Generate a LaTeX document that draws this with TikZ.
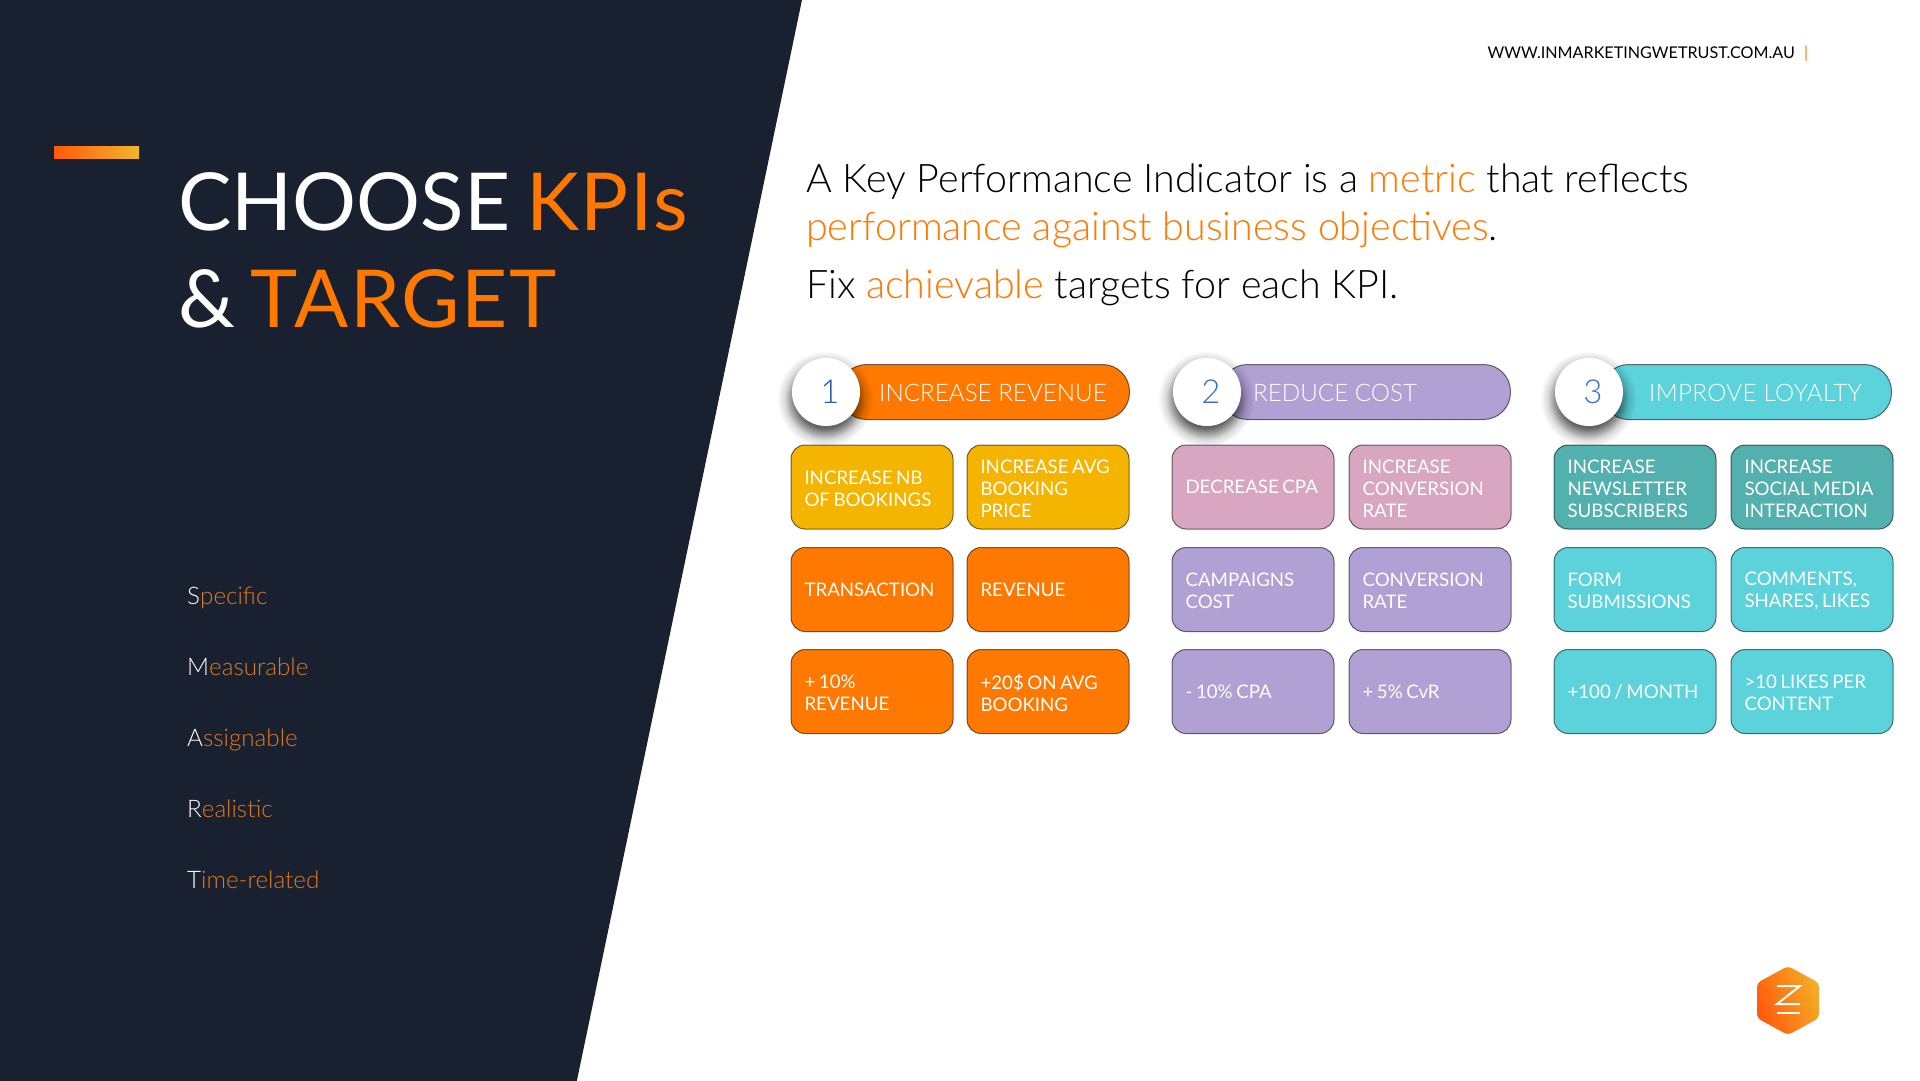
\documentclass[tikz,border=0pt]{standalone}
\usepackage{fontspec}
\setmainfont{Lato}
\newfontfamily\latolight{Lato Light}
\usetikzlibrary{fadings}
\definecolor{navy}{HTML}{19202F}
\definecolor{kpiorange}{HTML}{FF7800}
\definecolor{kpiyellow}{HTML}{F4B400}
\definecolor{kpipink}{HTML}{D8A6C0}
\definecolor{kpipurple}{HTML}{B0A0D4}
\definecolor{kpiteal}{HTML}{52B0AE}
\definecolor{kpicyan}{HTML}{5CD2DA}
\definecolor{smartorange}{HTML}{E07A1C}
\definecolor{numdark}{HTML}{2B5CA8}
\definecolor{numblue}{HTML}{3A6FC8}
\definecolor{gradstart}{HTML}{FF5A0A}
\definecolor{gradend}{HTML}{F2B52E}
\pgfdeclareradialshading{softshade}{\pgfpointorigin}{color(0bp)=(white); color(15bp)=(white!75!black); color(21bp)=(white!18!black); color(25bp)=(black); color(50bp)=(black)}
\pgfdeclarefading{softshadow}{\pgfuseshading{softshade}}
\newcommand{\titlefont}{\fontsize{80}{90}\selectfont\spaceskip.195em\relax}
\tikzset{
  kpibox/.style={draw=black,draw opacity=.55,line width=1pt,fill=#1,rounded corners=14pt,
    minimum width=162pt,minimum height=84pt,text width=135pt,inner xsep=13.5pt,inner ysep=0pt,
    align=left,text=white,font=\fontsize{18.7}{22}\selectfont,
    execute at begin node=\spaceskip.19em\relax,
    execute at end node=\par\vspace*{-3pt}},
  pill/.style={draw=black,draw opacity=.55,line width=1pt,fill=#1,rounded corners=27pt,
    minimum width=290pt,minimum height=55pt,anchor=east},
  pilltext/.style={anchor=base west,inner sep=0pt,text=white,font=\fontsize{24.2}{28}\latolight\selectfont},
  numcircle/.style={circle,fill=white,minimum size=68pt,inner sep=0pt,text=#1,font=\fontsize{33}{36}\latolight\selectfont,execute at begin node=\hspace*{8pt}},
  numshadow/.style={circle,fill=black,fill opacity=.8,minimum size=96pt,path fading=softshadow},
  bodyline/.style={anchor=base west,inner sep=0pt,text=black,font=\fontsize{39.4}{44}\latolight\selectfont},
  titleline/.style={anchor=base west,inner sep=0pt,text=white,font=\titlefont},
  smart/.style={anchor=base west,inner sep=0pt,text=smartorange,font=\fontsize{24.2}{28}\latolight\selectfont},
}
\newcommand{\hl}[1]{\textcolor{kpiorange}{#1}}
\newcommand{\titlehl}[1]{\textcolor{kpiorange}{\addfontfeatures{LetterSpace=2.2}#1}}
\newcommand{\first}[1]{\textcolor{white}{#1}}
\begin{document}
\begin{tikzpicture}[x=1pt,y=-1pt]
  \useasboundingbox (0,0) rectangle (1920,1080);
  \fill[white] (-5,-5) rectangle (1925,1085);
  \fill[navy] (-5,-5) -- (803,-5) -- (576,1085) -- (-5,1085) -- cycle;
  \shade[left color=gradstart,right color=gradend] (54,146) rectangle (139,158);
  % title
  \node[titleline] (title1) at (178,230) {CHOOSE \titlehl{KPIs}};
  \node[titleline] (title2) at (178,327) {\& \titlehl{TARGET}};
  \node[smart] (s) at (187,604) {\first{S}pecific};
  \node[smart] (m) at (187,675) {\first{M}easurable};
  \node[smart] (a) at (187,746) {\first{A}ssignable};
  \node[smart] (r) at (187,817) {\first{R}ealistic};
  \node[smart] (t) at (187,888) {\first{T}ime-related};
  % top right
  \node[anchor=base east,inner sep=0pt,text=black,font=\fontsize{16.15}{20}\selectfont] (url) at (1795,58) {WWW.INMARKETINGWETRUST.COM.AU};
  \node[anchor=base west,inner sep=0pt,text=kpiorange,font=\fontsize{16.15}{20}\selectfont] (urlbar) at (1804,58) {|};
  \node[bodyline] (line1) at (806,192) {A Key Performance Indicator is a \hl{metric} that reflects};
  \node[bodyline] (line2) at (806,240) {\hl{performance against business objectives}.};
  \node[bodyline] (line3) at (806,298) {Fix \hl{achievable} targets for each KPI.};
  % column 1
  \node[pill=kpiorange] (pill1) at (1130,392) {};
  \node[numshadow] (shadow1) at (825,399) {};
  \node[numcircle=numdark] (num1) at (826,392) {1};
  \node[pilltext] (head1) at (879,401) {INCREASE REVENUE};
  \node[kpibox=kpiyellow] (a1) at (872,487) {INCREASE NB\\OF BOOKINGS};
  \node[kpibox=kpiyellow] (a2) at (1048,487) {INCREASE AVG\\BOOKING\\PRICE};
  \node[kpibox=kpiorange] (a3) at (872,589.5) {TRANSACTION};
  \node[kpibox=kpiorange] (a4) at (1048,589.5) {REVENUE};
  \node[kpibox=kpiorange] (a5) at (872,691.5) {+ 10\%\\REVENUE};
  \node[kpibox=kpiorange] (a6) at (1048,691.5) {+20\$ ON AVG\\BOOKING};
  % column 2
  \node[pill=kpipurple] (pill2) at (1511,392) {};
  \node[numshadow] (shadow2) at (1206,399) {};
  \node[numcircle=numblue] (num2) at (1207,392) {2};
  \node[pilltext] (head2) at (1253,401) {REDUCE COST};
  \node[kpibox=kpipink] (b1) at (1253,487) {DECREASE CPA};
  \node[kpibox=kpipink] (b2) at (1430,487) {INCREASE\\CONVERSION\\RATE};
  \node[kpibox=kpipurple] (b3) at (1253,589.5) {CAMPAIGNS\\COST};
  \node[kpibox=kpipurple] (b4) at (1430,589.5) {CONVERSION\\RATE};
  \node[kpibox=kpipurple] (b5) at (1253,691.5) {- 10\% CPA};
  \node[kpibox=kpipurple] (b6) at (1430,691.5) {+ 5\% CvR};
  % column 3
  \node[pill=kpicyan] (pill3) at (1892,392) {};
  \node[numshadow] (shadow3) at (1588,399) {};
  \node[numcircle=numblue] (num3) at (1589,392) {3};
  \node[pilltext] (head3) at (1649,401) {\addfontfeatures{LetterSpace=1.3}IMPROVE LOYALTY};
  \node[kpibox=kpiteal] (c1) at (1635,487) {INCREASE\\NEWSLETTER\\SUBSCRIBERS};
  \node[kpibox=kpiteal] (c2) at (1812,487) {INCREASE\\SOCIAL MEDIA\\INTERACTION};
  \node[kpibox=kpicyan] (c3) at (1635,589.5) {FORM\\SUBMISSIONS};
  \node[kpibox=kpicyan] (c4) at (1812,589.5) {COMMENTS,\\SHARES, LIKES};
  \node[kpibox=kpicyan] (c5) at (1635,691.5) {+100 / MONTH};
  \node[kpibox=kpicyan] (c6) at (1812,691.5) {>10 LIKES PER\\CONTENT};
  % logo
  \shade[left color=gradstart,right color=gradend!85!orange,rounded corners=4pt,shading angle=110]
    (1788,966) -- (1819,983) -- (1819,1018) -- (1788,1035) -- (1757,1018) -- (1757,983) -- cycle;
  \draw[white,line width=2pt] (1777,986) -- (1800,986) -- (1777,1004) -- (1800,1004);
  \draw[white,line width=2pt] (1777,1012.5) -- (1800,1012.5);
\end{tikzpicture}
\end{document}
